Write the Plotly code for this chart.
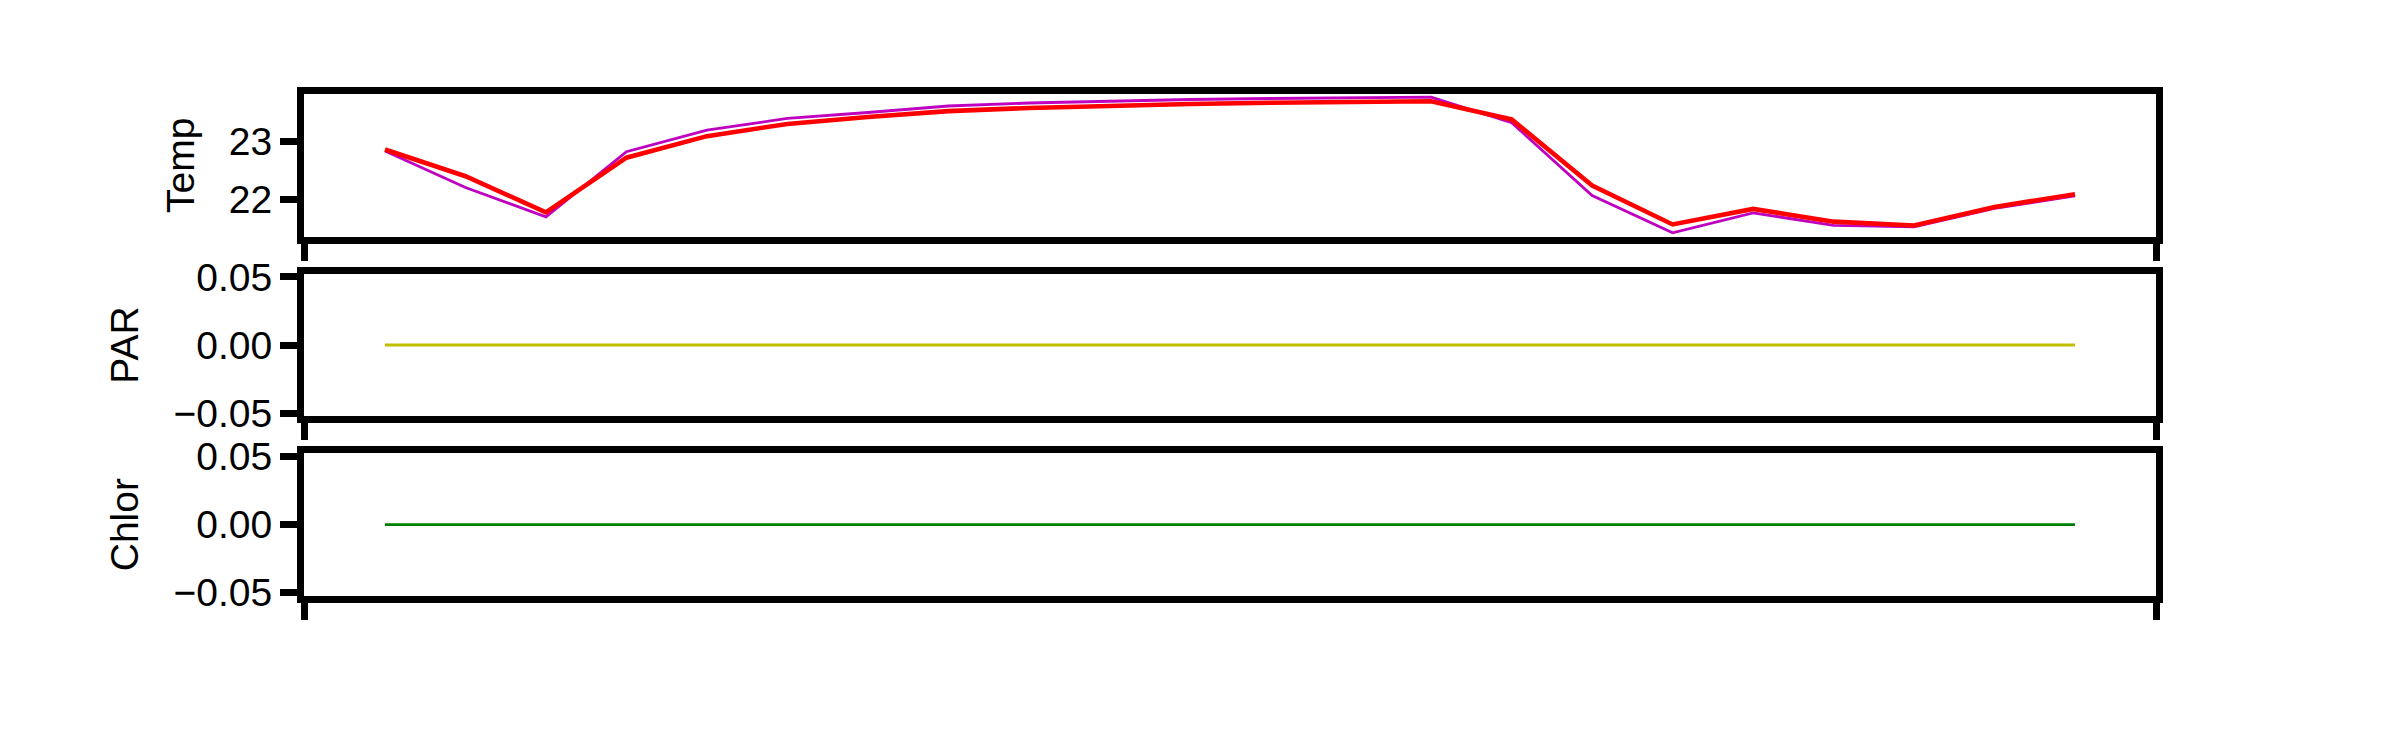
import plotly.graph_objects as go

# ---- data ----
steps = list(range(22))
temp_red = [22.86, 22.40, 21.78, 22.72, 23.09, 23.30, 23.42, 23.52, 23.575, 23.617,
            23.643, 23.664, 23.681, 23.691, 23.377, 22.24, 21.571, 21.839, 21.619,
            21.554, 21.873, 22.091]
temp_purple = [22.834, 22.206, 21.702, 22.823, 23.194, 23.395, 23.497, 23.609, 23.66,
               23.695, 23.72, 23.738, 23.751, 23.76, 23.321, 22.069, 21.427, 21.77,
               21.556, 21.53, 21.846, 22.062]
par = [0.0] * 22
chlor = [0.0] * 22

temp_ticks = [22, 23]
small_ticks = [-0.05, 0.0, 0.05]
small_ticktext = ["\u22120.05", "0.00", "0.05"]

FONT = "Liberation Sans, Arial, Helvetica, sans-serif"
FS = 39
SPINE = 7

fig = go.Figure()
fig.add_trace(go.Scatter(x=steps, y=temp_purple, mode="lines",
                         line=dict(color="#bf00bf", width=2.8), xaxis="x", yaxis="y"))
fig.add_trace(go.Scatter(x=steps, y=temp_red, mode="lines",
                         line=dict(color="#ff0000", width=4.6), xaxis="x", yaxis="y"))
fig.add_trace(go.Scatter(x=steps, y=par, mode="lines",
                         line=dict(color="#bfbf00", width=2.8), xaxis="x2", yaxis="y2"))
fig.add_trace(go.Scatter(x=steps, y=chlor, mode="lines",
                         line=dict(color="#008000", width=2.8), xaxis="x3", yaxis="y3"))

xr = [-1.0065, 22.0065]

def xaxis(anchor):
    return dict(domain=[0, 1], range=xr, anchor=anchor, showgrid=False,
                zeroline=False, showline=True, linecolor="black", linewidth=SPINE,
                mirror=True, ticks="outside", ticklen=17, tickwidth=SPINE,
                tickcolor="black", tickmode="array", tickvals=xr,
                showticklabels=False, automargin=False)

def yaxis(anchor, dom, rng, tv, tt, title):
    return dict(domain=dom, range=rng, anchor=anchor, showgrid=False,
                zeroline=False, showline=True, linecolor="black", linewidth=SPINE,
                mirror=True, ticks="outside", ticklen=17, tickwidth=SPINE,
                tickcolor="black", tickmode="array", tickvals=tv, ticktext=tt,
                tickfont=dict(family=FONT, size=FS, color="black"),
                automargin=False,
                title=dict(text=title, font=dict(family=FONT, size=FS, color="black"),
                           standoff=25))

H = 503
fig.update_layout(
    width=2400, height=750,
    margin=dict(l=295.5, r=251.5, t=85.5, b=161.5, pad=0),
    paper_bgcolor="white", plot_bgcolor="white",
    showlegend=False,
    font=dict(family=FONT, size=FS, color="black"),
    xaxis=xaxis("y"),
    xaxis2=xaxis("y2"),
    xaxis3=xaxis("y3"),
    yaxis=yaxis("x", [1 - 143 / H, 1], [21.360, 23.815], temp_ticks,
                [str(t) for t in temp_ticks], "Temp"),
    yaxis2=yaxis("x2", [1 - 323 / H, 1 - 180 / H], [-0.05243, 0.05243],
                 small_ticks, small_ticktext, "PAR"),
    yaxis3=yaxis("x3", [0, 143 / H], [-0.05243, 0.05243],
                 small_ticks, small_ticktext, "Chlor"),
)

fig.write_html("out.html")
